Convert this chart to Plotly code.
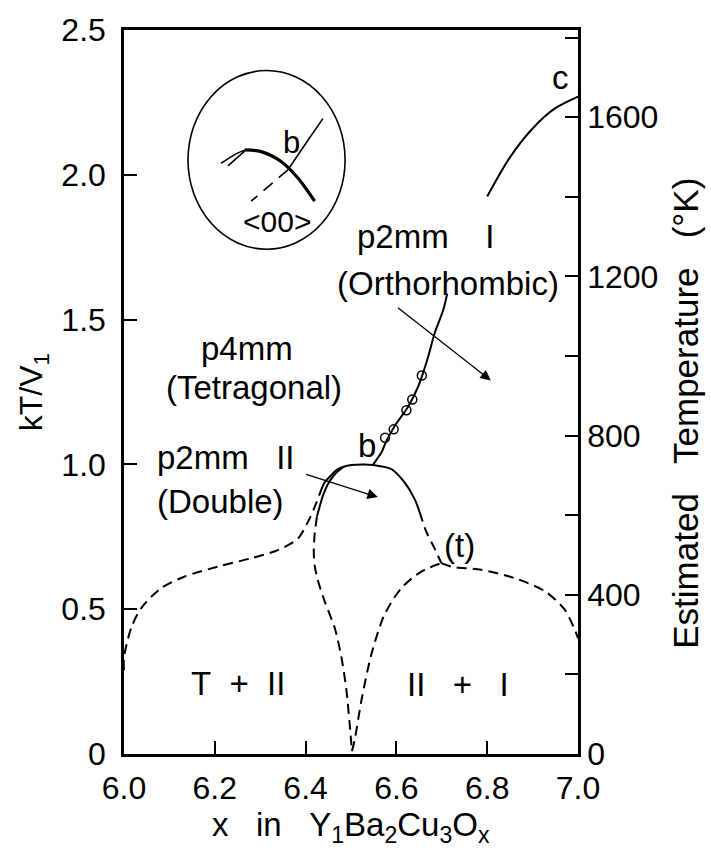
import plotly.graph_objects as go

# ---------------- data ----------------
# left outer dashed boundary (T / II)
outer_dash_x = [6.0, 6.0, 6.016, 6.038, 6.082, 6.134, 6.207, 6.28, 6.339, 6.383, 6.405, 6.42, 6.435]
outer_dash_y = [0.29, 0.333, 0.436, 0.504, 0.573, 0.613, 0.647, 0.676, 0.704, 0.744, 0.801, 0.853, 0.915]
# solid dome (p2mm II boundary)
dome_x = [6.435, 6.442, 6.456, 6.471, 6.501, 6.53, 6.548, 6.589, 6.618, 6.64, 6.651]
dome_y = [0.915, 0.938, 0.962, 0.984, 0.998, 1.0, 0.998, 0.984, 0.938, 0.881, 0.836]
# dashed continuation down to (t)
dome_dash_x = [6.651, 6.666, 6.684, 6.699]
dome_dash_y = [0.836, 0.767, 0.71, 0.659]
# dashed from (t) to the right axis
right_dash_x = [6.699, 6.721, 6.787, 6.861, 6.927, 6.97, 6.99, 7.0]
right_dash_y = [0.659, 0.647, 0.636, 0.607, 0.562, 0.50, 0.44, 0.40]
# inner solid line of the double curve
inner_x = [6.425, 6.432, 6.44, 6.452, 6.468, 6.485]
inner_y = [0.82, 0.86, 0.90, 0.94, 0.972, 0.992]
# V: left branch down to x = 6.5, right branch up to (t)
v_left_x = [6.425, 6.42, 6.418, 6.42, 6.427, 6.442, 6.464, 6.479, 6.49, 6.497, 6.502]
v_left_y = [0.82, 0.76, 0.70, 0.65, 0.60, 0.527, 0.436, 0.333, 0.219, 0.105, 0.01]
v_right_x = [6.502, 6.508, 6.523, 6.545, 6.574, 6.611, 6.655, 6.699]
v_right_y = [0.01, 0.048, 0.185, 0.345, 0.482, 0.573, 0.63, 0.659]
# orthorhombic boundary (two pieces) and its measured points
ortho_lo_x = [6.548, 6.558, 6.567, 6.578, 6.596, 6.626, 6.648, 6.67, 6.684, 6.703, 6.712]
ortho_lo_y = [0.998, 1.02, 1.041, 1.081, 1.132, 1.2, 1.269, 1.372, 1.452, 1.532, 1.59]
ortho_hi_x = [6.80, 6.85, 6.90, 6.95, 7.0]
ortho_hi_y = [1.925, 2.06, 2.16, 2.23, 2.27]
pts_x = [6.575, 6.594, 6.622, 6.635, 6.656]
pts_y = [1.092, 1.121, 1.187, 1.224, 1.307]

# inset (magnified view near b), in main data coordinates
inset_circle = [6.141, 6.487, 1.743, 2.36]  # x0, x1, y0, y1
inset_dome_x = [6.266, 6.302, 6.346, 6.383, 6.42]
inset_dome_y = [2.086, 2.08, 2.046, 1.989, 1.909]
inset_a_x = [6.214, 6.242, 6.266]
inset_a_y = [2.040, 2.068, 2.086]
inset_b_x = [6.229, 6.25, 6.266]
inset_b_y = [2.031, 2.06, 2.082]
inset_up_x = [6.361, 6.398, 6.438]
inset_up_y = [2.017, 2.103, 2.194]
inset_dn_x = [6.361, 6.280]
inset_dn_y = [2.017, 1.909]

# arrows: (tail x, tail y, head x, head y)
arrow_ortho = [6.60, 1.545, 6.808, 1.29]
arrow_double = [6.398, 0.967, 6.559, 0.887]

# axis ticks
x_ticks = [6.0, 6.2, 6.4, 6.6, 6.8, 7.0]
x_ticktext = ["6.0", "6.2", "6.4", "6.6", "6.8", "7.0"]
y_ticks = [0, 0.5, 1.0, 1.5, 2.0, 2.5]
y_ticktext = ["0", "0.5", "1.0", "1.5", "2.0", "2.5"]
t_ticks = [0, 400, 800, 1200, 1600]
t_ticktext = ["0", "400", "800", "1200", "1600"]
t_minor = [200, 600, 1000, 1400, 1800]
K_PER_UNIT = 727.7  # kelvin per unit of kT/V1

NB = "\u00a0"
# text labels: (text, x, y, xanchor, size)
labels = [
    ("p4mm", 6.272, 1.40, "center", 33),
    ("(Tetragonal)", 6.286, 1.264, "center", 33),
    ("p2mm" + NB * 3 + "II", 6.068, 1.025, "left", 33),
    ("(Double)", 6.068, 0.873, "left", 33),
    ("p2mm" + NB * 4 + "I", 6.508, 1.788, "left", 33),
    ("(Orthorhombic)", 6.963, 1.623, "right", 33),
    ("b", 6.535, 1.064, "center", 33),
    ("(t)", 6.74, 0.721, "center", 33),
    ("c", 6.962, 2.335, "center", 33),
    ("T" + NB * 2 + "+" + NB * 2 + "II", 6.25, 0.245, "center", 33),
    ("II" + NB * 3 + "+" + NB * 3 + "I", 6.735, 0.24, "center", 33),
    ("b", 6.37, 2.113, "center", 31),
    ("&lt;00&gt;", 6.337, 1.839, "center", 30),
]

# ---------------- figure ----------------
FONT = "Liberation Sans, Arial, Helvetica, sans-serif"
fig = go.Figure()

def add_line(x, y, dash=None, width=2.0, smooth=True):
    fig.add_trace(go.Scatter(
        x=x, y=y, mode="lines",
        line=dict(color="black", width=width, dash=dash,
                  shape="spline" if smooth else "linear", smoothing=0.8),
        hoverinfo="skip", showlegend=False))

DASH = "10px,6px"
add_line(outer_dash_x, outer_dash_y, DASH)
add_line(dome_x, dome_y)
add_line(dome_dash_x, dome_dash_y, DASH)
add_line(right_dash_x, right_dash_y, DASH)
add_line(inner_x, inner_y)
add_line(v_left_x, v_left_y, DASH)
add_line(v_right_x, v_right_y, DASH)
add_line(ortho_lo_x, ortho_lo_y)
add_line(ortho_hi_x, ortho_hi_y)
fig.add_trace(go.Scatter(x=pts_x, y=pts_y, mode="markers",
                         marker=dict(symbol="circle-open", size=9, color="black",
                                     line=dict(width=1.5, color="black")),
                         hoverinfo="skip", showlegend=False))
# inset curves
add_line(inset_dome_x, inset_dome_y, width=3.2)
add_line(inset_a_x, inset_a_y, width=1.6)
add_line(inset_b_x, inset_b_y, width=1.6)
add_line(inset_up_x, inset_up_y, width=1.6)
add_line(inset_dn_x, inset_dn_y, dash="12px,8px", width=1.6, smooth=False)

fig.add_shape(type="circle", xref="x", yref="y",
              x0=inset_circle[0], x1=inset_circle[1], y0=inset_circle[2], y1=inset_circle[3],
              line=dict(color="black", width=1.6))

# invisible trace for the temperature axis
fig.add_trace(go.Scatter(x=[6.0, 7.0], y=[0, 2.5 * K_PER_UNIT], yaxis="y2",
                         mode="markers", marker=dict(opacity=0),
                         hoverinfo="skip", showlegend=False))

for ax in (arrow_ortho, arrow_double):
    fig.add_annotation(x=ax[2], y=ax[3], ax=ax[0], ay=ax[1], xref="x", yref="y",
                       axref="x", ayref="y", text="", showarrow=True,
                       arrowhead=2, arrowsize=1.6, arrowwidth=1.3, arrowcolor="black")

for txt, lx, ly, anc, sz in labels:
    fig.add_annotation(x=lx, y=ly, xref="x", yref="y", text=txt, showarrow=False,
                       xanchor=anc, yanchor="middle",
                       font=dict(family=FONT, size=sz, color="black"))

# axis titles
fig.add_annotation(x=-0.2, y=0.5, xref="paper", yref="paper", text="kT/V<sub>1</sub>",
                   textangle=-90, showarrow=False, xanchor="center", yanchor="middle",
                   font=dict(family=FONT, size=32, color="black"))
fig.add_annotation(x=1.238, y=0.47, xref="paper", yref="paper",
                   text="Estimated" + NB * 3 + "Temperature" + NB * 3 + "(°K)",
                   textangle=-90, showarrow=False, xanchor="center", yanchor="middle",
                   font=dict(family=FONT, size=35, color="black"))
fig.add_annotation(x=0.5, y=-0.101, xref="paper", yref="paper",
                   text="x" + NB * 3 + "in" + NB * 3 + "Y<sub>1</sub>Ba<sub>2</sub>Cu<sub>3</sub>O<sub>x</sub>",
                   showarrow=False, xanchor="center", yanchor="middle",
                   font=dict(family=FONT, size=33, color="black"))

axis_common = dict(showgrid=False, zeroline=False, showline=True, linecolor="black",
                   linewidth=2.5, ticks="inside", ticklen=13, tickwidth=2,
                   tickcolor="black", tickfont=dict(family=FONT, size=32, color="black"))

fig.update_layout(
    width=711, height=851,
    margin=dict(l=124, r=133, t=24, b=97),
    paper_bgcolor="white", plot_bgcolor="white",
    showlegend=False,
    xaxis=dict(range=[6.0, 7.0], tickvals=x_ticks, ticktext=x_ticktext, mirror=True,
               ticklabelstandoff=4, **axis_common),
    yaxis=dict(range=[0, 2.5], tickvals=y_ticks, ticktext=y_ticktext,
               ticklabelstandoff=9, **axis_common),
    yaxis2=dict(range=[0, 2.5 * K_PER_UNIT], overlaying="y", side="right",
                tickvals=t_ticks, ticktext=t_ticktext,
                minor=dict(tickvals=t_minor, ticks="inside", ticklen=13, tickwidth=2,
                           tickcolor="black"),
                **axis_common),
)

fig.write_html("out.html")
